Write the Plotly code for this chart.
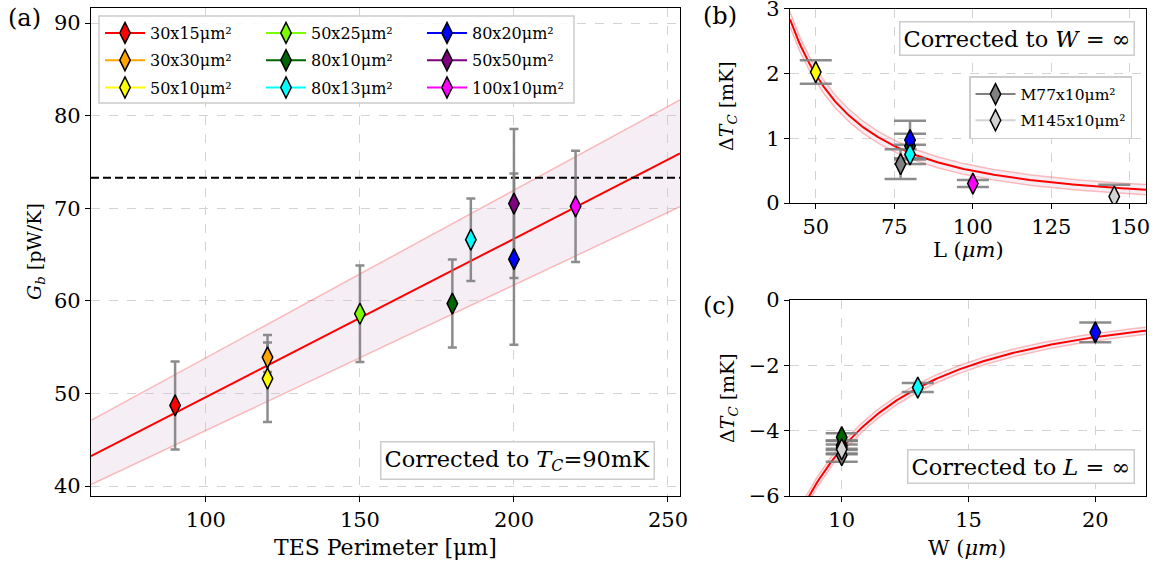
import numpy as np
import plotly.graph_objects as go

FIG_W, FIG_H = 1158, 562
FONT = "DejaVu Serif"

# ---------------- panel (a): G_b versus TES perimeter ----------------
labels_a = ["30x15μm²", "30x30μm²", "50x10μm²", "50x25μm²", "80x10μm²",
            "80x13μm²", "80x20μm²", "50x50μm²", "100x10μm²"]
colors_a = ["red", "orange", "yellow", "lawngreen", "darkgreen",
            "cyan", "blue", "purple", "magenta"]
perimeter_um = [90, 120, 120, 150, 180, 186, 200, 200, 220]
gb_pw_per_k = [48.7, 53.9, 51.6, 58.6, 59.7, 66.6, 64.5, 70.5, 70.2]
gb_err = [4.75, 1.6, 4.7, 5.2, 4.75, 4.45, 9.25, 8.05, 6.0]
legend_column = [1, 1, 1, 2, 2, 2, 3, 3, 3]

fit_a = (0.171, 32.5)          # slope, intercept
band_a_upper = (0.181, 35.75)
band_a_lower = (0.157, 30.3)
gb_reference = 73.3

# ---------------- panel (b): ΔT_C versus length, W -> ∞ ----------------
labels_b = ["M77x10μm²", "M145x10μm²", "50x10μm²", "80x10μm²", "80x20μm²", "80x13μm²", "100x10μm²"]
colors_b = ["gray", "lightgray", "yellow", "darkgreen", "blue", "cyan", "magenta"]
length_um = [77, 145, 50, 80, 80, 80, 100]
dtc_b = [0.60, 0.10, 2.02, 0.88, 0.97, 0.75, 0.30]
dtc_b_err = [0.23, 0.18, 0.18, 0.19, 0.30, 0.15, 0.055]
fit_b_amp = 4950.0             # ΔT = A / L²
band_b = (0.075, 0.015)        # half width = c0 + c1 * ΔT

# ---------------- panel (c): ΔT_C versus width, L -> ∞ ----------------
labels_c = ["50x10μm²", "100x10μm²", "80x10μm²", "M77x10μm²", "M145x10μm²", "80x13μm²", "80x20μm²"]
colors_c = ["yellow", "magenta", "darkgreen", "gray", "lightgray", "cyan", "blue"]
width_um = [10, 10, 10, 10, 10, 13, 20]
dtc_c = [-4.45, -4.50, -4.20, -4.75, -4.57, -2.68, -0.99]
dtc_c_err = [0.14, 0.20, 0.12, 0.20, 0.15, 0.14, 0.30]
fit_c_amp = -455.0             # ΔT = A / W²
band_c = (0.10, 0.01)

legend_b_labels = ["M77x10μm²", "M145x10μm²"]
legend_b_colors = ["gray", "lightgray"]
legend_b_lines = ["gray", "lightgray"]

# axis ranges
xr_a, yr_a = [62.7, 253.9], [38.92, 91.62]
xr_b, yr_b = [41.8, 155.1], [0, 3]
xr_c, yr_c = [7.96, 22.0], [-6, 0]


def px(x):
    return x / FIG_W


def py(y):
    return 1 - y / FIG_H


ERR_COLOR = "rgba(128,128,128,0.9)"
BAND_FILL = "rgba(216,191,216,0.25)"
BAND_EDGE = "rgba(255,0,0,0.25)"

fig = go.Figure()


def add_band(xs, lo, hi, xa, ya):
    fig.add_trace(go.Scatter(x=xs, y=lo, mode="lines", line=dict(color=BAND_EDGE, width=1.5),
                             xaxis=xa, yaxis=ya, showlegend=False, hoverinfo="skip"))
    fig.add_trace(go.Scatter(x=xs, y=hi, mode="lines", line=dict(color=BAND_EDGE, width=1.5),
                             fill="tonexty", fillcolor=BAND_FILL,
                             xaxis=xa, yaxis=ya, showlegend=False, hoverinfo="skip"))


def add_points(xs, ys, errs, cols, xa, ya, cap):
    # error bars first so that every marker sits above all bars
    for x, y, e in zip(xs, ys, errs):
        fig.add_trace(go.Scatter(x=[x], y=[y], mode="markers", marker=dict(opacity=0, size=2),
                                 error_y=dict(type="data", array=[e], color=ERR_COLOR,
                                              thickness=2.5, width=cap),
                                 xaxis=xa, yaxis=ya, showlegend=False, hoverinfo="skip"))
    for x, y, c in zip(xs, ys, cols):
        fig.add_trace(go.Scatter(x=[x], y=[y], mode="markers",
                                 marker=dict(symbol="diamond-tall", size=15, color=c,
                                             line=dict(color="black", width=1.5)),
                                 xaxis=xa, yaxis=ya, showlegend=False))


# panel (a)
xa_line = np.linspace(xr_a[0], xr_a[1], 50)
add_band(xa_line, band_a_lower[0] * xa_line + band_a_lower[1],
         band_a_upper[0] * xa_line + band_a_upper[1], "x", "y")
fig.add_trace(go.Scatter(x=xa_line, y=fit_a[0] * xa_line + fit_a[1], mode="lines",
                         line=dict(color="red", width=2), showlegend=False, hoverinfo="skip"))
fig.add_trace(go.Scatter(x=xr_a, y=[gb_reference, gb_reference], mode="lines",
                         line=dict(color="black", width=2, dash="8px,4px"),
                         showlegend=False, hoverinfo="skip"))
add_points(perimeter_um, gb_pw_per_k, gb_err, colors_a, "x", "y", 4.5)

legend_names = {1: "legend", 2: "legend2", 3: "legend3"}
for lab, col, grp in zip(labels_a, colors_a, legend_column):
    fig.add_trace(go.Scatter(x=[None], y=[None], mode="lines+markers", name=lab,
                             line=dict(color=col, width=2),
                             marker=dict(symbol="diamond-tall", size=15, color=col,
                                         line=dict(color="black", width=1.5)),
                             legend=legend_names[grp], legendgroup=lab))

# panel (b)
xb_line = np.linspace(xr_b[0], xr_b[1], 200)
yb_fit = fit_b_amp / xb_line ** 2
hw_b = band_b[0] + band_b[1] * yb_fit
add_band(xb_line, yb_fit - hw_b, yb_fit + hw_b, "x2", "y2")
fig.add_trace(go.Scatter(x=xb_line, y=yb_fit, mode="lines", line=dict(color="red", width=2),
                         xaxis="x2", yaxis="y2", showlegend=False, hoverinfo="skip"))
add_points(length_um, dtc_b, dtc_b_err, colors_b, "x2", "y2", 16)

for lab, col, lcol in zip(legend_b_labels, legend_b_colors, legend_b_lines):
    fig.add_trace(go.Scatter(x=[None], y=[None], mode="lines+markers", name=lab,
                             line=dict(color=lcol, width=2),
                             marker=dict(symbol="diamond-tall", size=15, color=col,
                                         line=dict(color="black", width=1.5)),
                             xaxis="x2", yaxis="y2", legend="legend4", legendgroup=lab))

# panel (c)
xc_line = np.linspace(xr_c[0], xr_c[1], 200)
yc_fit = fit_c_amp / xc_line ** 2
hw_c = band_c[0] + band_c[1] * np.abs(yc_fit)
add_band(xc_line, yc_fit - hw_c, yc_fit + hw_c, "x3", "y3")
fig.add_trace(go.Scatter(x=xc_line, y=yc_fit, mode="lines", line=dict(color="red", width=2),
                         xaxis="x3", yaxis="y3", showlegend=False, hoverinfo="skip"))
add_points(width_um, dtc_c, dtc_c_err, colors_c, "x3", "y3", 16)


def axis_style(rng, dom, anchor, dtick, tick0=0):
    return dict(range=rng, domain=dom, anchor=anchor, dtick=dtick, tick0=tick0,
                automargin=False, ticklabeloverflow="allow",
                showline=True, linecolor="black", linewidth=1.2, mirror=True,
                ticks="outside", ticklen=5, tickwidth=1.2, tickcolor="black",
                showgrid=True, gridcolor="#d3d3d3", griddash="dash", gridwidth=1,
                zeroline=False, tickfont=dict(family=FONT, size=21, color="black"))


dom_a_x = [px(91), px(680)]
dom_a_y = [py(496), py(8)]
dom_bc_x = [px(790), px(1146)]
dom_b_y = [py(203), py(8.5)]
dom_c_y = [py(496), py(300)]

leg_common = dict(xanchor="left", yanchor="top", bgcolor="rgba(0,0,0,0)", borderwidth=0,
                  font=dict(family=FONT, size=16, color="black"), tracegroupgap=3.5,
                  itemwidth=40, xref="paper", yref="paper")

fig.update_layout(
    width=FIG_W, height=FIG_H,
    margin=dict(l=0, r=0, t=0, b=0, pad=0, autoexpand=False),
    paper_bgcolor="white", plot_bgcolor="white",
    font=dict(family=FONT, color="black"),
    xaxis=axis_style(xr_a, dom_a_x, "y", 50),
    yaxis=axis_style(yr_a, dom_a_y, "x", 10),
    xaxis2=axis_style(xr_b, dom_bc_x, "y2", 25),
    yaxis2=axis_style(yr_b, dom_b_y, "x2", 1),
    xaxis3=axis_style(xr_c, dom_bc_x, "y3", 5),
    yaxis3=axis_style(yr_c, dom_c_y, "x3", 2),
    legend=dict(x=px(100), y=py(16), **leg_common),
    legend2=dict(x=px(261), y=py(16), **leg_common),
    legend3=dict(x=px(422), y=py(16), **leg_common),
    legend4=dict(x=px(969), y=py(76), xanchor="left", yanchor="top", bgcolor="white",
                 bordercolor="#cccccc", borderwidth=1.5, tracegroupgap=3, itemwidth=40,
                 font=dict(family=FONT, size=15.5, color="black")),
    showlegend=True,
)

# frame behind the three-column legend of panel (a)
fig.add_shape(type="rect", xref="paper", yref="paper",
              x0=px(99), x1=px(574), y0=py(103), y1=py(16),
              line=dict(color="#cccccc", width=1.5), fillcolor="rgba(255,255,255,0.85)",
              layer="above")

ann = []


def text(x, y, s, size=22, angle=0, box=False, xanchor="center"):
    a = dict(x=px(x), y=py(y), xref="paper", yref="paper", text=s, showarrow=False,
             textangle=angle, xanchor=xanchor, yanchor="middle",
             font=dict(family=FONT, size=size, color="black"))
    if box:
        a.update(bgcolor="white", bordercolor="#cccccc", borderwidth=1.5, borderpad=3)
    ann.append(a)


text(6, 18, "(a)", 24, xanchor="left")
text(701, 16, "(b)", 24, xanchor="left")
text(701, 306, "(c)", 24, xanchor="left")

text(385, 547, "TES Perimeter [μm]")
text(35, 252, "<i>G</i><sub><i>b</i></sub> [pW/K]", 19, angle=-90)
text(968, 250, "L (<i>μm</i>)", 21)
text(728, 106, "Δ<i>T</i><sub><i>C</i></sub> [mK]", 19, angle=-90)
text(967, 548, "W (<i>μm</i>)", 21)
text(728, 398, "Δ<i>T</i><sub><i>C</i></sub> [mK]", 19, angle=-90)

text(517, 460, "Corrected to <i>T</i><sub><i>C</i></sub>=90mK", 22.5, box=True)
text(1017, 38, "Corrected to <i>W</i> = ∞", 22.5, box=True)
text(1021, 466, "Corrected to <i>L</i> = ∞", 22.5, box=True)

fig.update_layout(annotations=ann)

fig.write_html("out.html")
